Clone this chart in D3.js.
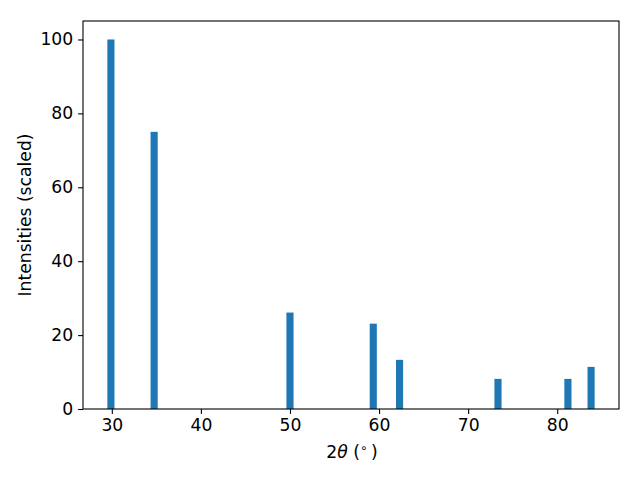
<!DOCTYPE html>
<html><head><meta charset="utf-8">
<script src="https://cdn.jsdelivr.net/npm/d3@7"></script>
<style>body{margin:0;background:#fff}svg{display:block}text{font-family:"DejaVu Sans";}</style>
</head><body>
<svg id="c" width="640" height="480"></svg>
<script>
const angles = [29.9, 34.75, 50.0, 59.35, 62.3, 73.35, 81.2, 83.8];
const intensities = [100, 75.0, 26.1, 23.1, 13.3, 8.15, 8.15, 11.4];
const barWidth = 0.8;
const xTicks = [30, 40, 50, 60, 70, 80];
const yTicks = [0, 20, 40, 60, 80, 100];

const svg = d3.select('#c');
const L = 83, R = 619, T = 21, B = 409;
const lo = d3.min(angles) - barWidth/2, hi = d3.max(angles) + barWidth/2;
const pad = (hi - lo) * 0.05;
const x = d3.scaleLinear().domain([lo - pad, hi + pad]).range([L, R]);
const y = d3.scaleLinear().domain([0, 105]).range([B, T]);
const fs = 17.2;

svg.append('g').selectAll('rect').data(angles).join('rect')
  .attr('x', (d) => x(d - barWidth/2))
  .attr('width', (d) => x(d + barWidth/2) - x(d - barWidth/2))
  .attr('y', (d, i) => y(intensities[i]))
  .attr('height', (d, i) => y(0) - y(intensities[i]))
  .attr('fill', '#1f77b4');

const xa = svg.append('g').attr('transform', `translate(0,${B})`)
  .call(d3.axisBottom(x).tickValues(xTicks).tickSize(4.9).tickPadding(4.9).tickFormat(d3.format('d')));
const ya = svg.append('g').attr('transform', `translate(${L},0)`)
  .call(d3.axisLeft(y).tickValues(yTicks).tickSize(4.9).tickPadding(4.9).tickFormat(d3.format('d')));
[xa, ya].forEach(a => {
  a.select('.domain').remove();
  a.selectAll('text').attr('font-family', 'DejaVu Sans').attr('font-size', fs).attr('fill', '#000');
  a.selectAll('line').attr('stroke', '#000').attr('stroke-width', 1.1);
});

svg.append('rect').attr('x', L).attr('y', T).attr('width', R - L).attr('height', B - T)
  .attr('fill', 'none').attr('stroke', '#000').attr('stroke-width', 1.1);

const xl = svg.append('text').attr('x', (L + R) / 2 + 1).attr('y', 458)
  .attr('text-anchor', 'middle').attr('font-size', fs);
xl.append('tspan').text('2');
xl.append('tspan').attr('font-style', 'italic').text('θ');
xl.append('tspan').text(' (');
xl.append('tspan').attr('font-size', fs * 0.7).attr('dy', -6).text('∘');
xl.append('tspan').attr('dy', 6).text('\u2009)');

svg.append('text').attr('transform', `translate(31,${(T + B) / 2}) rotate(-90)`)
  .attr('text-anchor', 'middle').attr('font-size', fs).text('Intensities (scaled)');
</script>
</body></html>
